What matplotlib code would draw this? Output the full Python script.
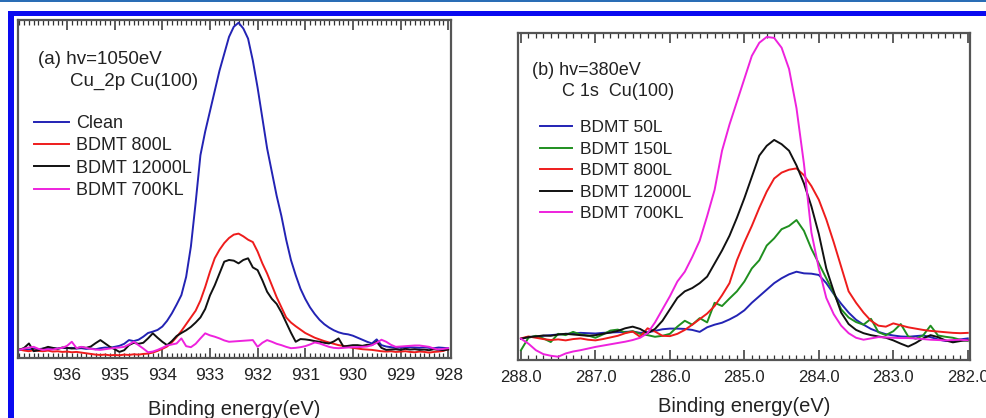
import numpy as np
import matplotlib
matplotlib.use('Agg')
import matplotlib.pyplot as plt
from matplotlib.ticker import MultipleLocator, FormatStrFormatter
from matplotlib.patches import Rectangle

plt.rcParams['font.family'] = ['Liberation Sans', 'DejaVu Sans']

# (a) Cu 2p, hv=1050eV : binding energy 937.0 -> 928.0 eV, 0.1 eV step
cu_energy = np.round(np.linspace(937.0, 928.0, 91), 1)
cu_ticks = [936, 935, 934, 933, 932, 931, 930, 929, 928]
cu_clean = [2.5, 2.6, 2.5, 2.7, 2.6, 2.8, 2.7, 2.9, 2.8, 3.0,
            2.9, 3.0, 2.8, 2.9, 2.7, 2.8, 2.6, 2.9, 3.1, 3.0,
            3.3, 3.6, 4.2, 5.3, 5.0, 5.4, 6.3, 7.4, 7.8, 8.3,
            9.3, 11.0, 13.2, 15.8, 18.6, 24, 33, 46, 60, 67,
            73, 79, 85, 90, 95, 98, 99.2, 97.5, 94.5, 88,
            80, 71, 62, 55, 48, 42, 35, 29, 24.5, 20.5,
            17.5, 15, 13, 11.3, 10, 9, 8.2, 7.6, 7.2, 7.0,
            6.6, 6.0, 5.4, 4.8, 4.3, 5.5, 3.8, 3.4, 3.2, 3.0,
            3.1, 3.0, 3.2, 3.1, 3.0, 3.2, 3.0, 2.9, 3.1, 3.0,
            2.9]
cu_800L = [2.5, 2.2, 2.0, 2.3, 2.1, 2.0, 2.2, 1.9, 2.0, 1.8,
           1.9, 1.7, 1.8, 1.6, 1.4, 1.2, 1.0, 0.9, 1.0, 0.8,
           0.9, 0.8, 1.0, 0.9, 1.1, 1.0, 1.2, 1.3, 1.6, 2.1,
           2.7, 3.4, 4.6, 6.2, 8.0, 10, 12, 14, 17, 21,
           25.5, 29.5, 32, 34, 35.5, 36.5, 36.8, 36, 35, 34.3,
           31.5, 28, 25, 21.5, 18, 15, 12, 10.5, 9.4, 8.4,
           7.4, 6.7, 6.0, 5.5, 5.0, 4.6, 4.2, 3.8, 3.6, 3.3,
           3.0, 2.8, 2.6, 2.5, 2.4, 2.2, 2.0, 1.9, 2.0, 1.8,
           1.9, 2.0, 1.8, 1.7, 1.9, 1.8, 1.6, 1.8, 1.9, 2.1,
           2.6]
cu_12000L = [2.4, 3.0, 4.3, 2.0, 2.3, 2.8, 3.3, 3.0, 2.7, 3.1,
             3.0, 2.8, 2.9, 3.2, 3.0, 3.4, 4.4, 5.3, 4.3, 3.3,
             2.6, 1.8, 2.3, 3.8, 4.5, 4.2, 4.5, 5.8, 7.3, 6.0,
             4.8, 3.8, 5.0, 6.5, 7.4, 8.2, 9.2, 10.5, 12.0, 14.5,
             18.5, 21.5, 25, 28.5, 29, 28.8, 28.0, 29, 29.5, 26.8,
             26, 23, 19.6, 17.5, 16, 13.5, 10.5, 7.5, 4.8, 5.6,
             5.5, 5.3, 5.0, 4.8, 4.5, 4.3, 4.9, 5.8, 3.4, 3.6,
             3.8, 3.8, 3.6, 3.9, 3.8, 4.8, 3.0, 2.4, 2.5, 2.6,
             2.4, 2.7, 2.5, 2.6, 2.4, 2.5, 2.3, 2.6, 2.4, 2.3,
             2.5]
cu_700KL = [2.4, 2.8, 3.1, 3.3, 2.7, 2.4, 2.6, 2.5, 2.8, 3.0,
            3.6, 4.8, 2.9, 3.3, 3.0, 2.7, 2.5, 2.4, 2.6, 2.8,
            3.0, 3.1, 3.3, 4.0, 4.8, 3.8, 2.8, 1.7, 1.9, 2.4,
            3.0, 3.7, 4.0, 4.3, 5.8, 3.5, 3.2, 4.2, 5.8, 7.3,
            6.7, 6.3, 5.8, 5.2, 4.8, 4.9, 5.0, 5.1, 5.2, 5.3,
            3.3, 4.5, 5.3, 4.8, 4.2, 3.8, 3.3, 2.9, 3.0, 3.2,
            3.5, 4.0, 4.6, 4.3, 3.8, 3.3, 3.0, 2.9, 3.0, 3.1,
            3.2, 3.2, 3.3, 3.4, 3.8, 4.5, 5.4, 4.8, 3.9, 3.3,
            3.4, 3.5, 3.6, 3.7, 3.7, 3.5, 3.3, 2.8, 2.5, 2.7,
            2.9]

# (b) C 1s, hv=380eV : binding energy 288.0 -> 282.0 eV, 0.1 eV step
c_energy = np.round(np.linspace(288.0, 282.0, 61), 1)
c_50L = [6.5, 7.0, 7.2, 7.4, 7.6, 7.8, 8.0, 8.1, 8.3, 8.2,
         8.1, 8.3, 8.4, 8.5, 8.6, 8.7, 8.3, 8.5, 8.9, 9.4,
         9.6, 9.6, 9.5, 9.2, 8.6, 10.0, 10.8, 11.4, 12.4, 13.6,
         15.2, 17.5, 19.5, 21.5, 23.5, 25.0, 26.2, 27.0, 26.5, 26.4,
         26.0, 23.5, 20.2, 17.2, 14.5, 12.3, 10.8, 9.5, 8.6, 7.9,
         7.5, 7.2, 7.1, 7.3, 7.5, 7.0, 6.3, 5.8, 5.8, 6.3,
         6.6]
c_150L = [3.0, 6.8, 7.4, 6.6, 5.5, 8.0, 7.6, 8.6, 7.8, 7.5,
          6.8, 7.8, 9.0, 9.3, 8.4, 8.8, 8.0, 7.6, 7.1, 7.4,
          8.0, 10.2, 12.0, 10.8, 12.8, 11.5, 17.5, 16.5, 18.8, 21.0,
          24.0, 28.0, 30.5, 35.0, 37.2, 40.0, 41.0, 42.8, 39.5, 34.0,
          29.5, 25.0, 20.5, 15.5, 13.0, 11.6, 10.8, 12.6, 8.5, 7.6,
          8.8, 11.0, 7.2, 6.5, 7.5, 10.5, 7.5, 7.1, 6.8, 6.2,
          5.8]
c_800L = [6.6, 7.2, 6.8, 6.4, 6.1, 6.3, 6.0, 6.4, 6.6, 6.2,
          6.0, 6.4, 6.9, 7.4, 8.2, 8.7, 7.1, 9.7, 8.7, 7.4,
          7.3, 8.0, 9.2, 10.8, 12.5, 14.2, 16.5, 19.8, 23.5, 30.5,
          36, 41, 46.5, 51.5, 55.5, 57.3, 58.2, 58.6, 56.5, 53.2,
          49, 43, 36, 28.5, 21, 17.5, 14.5, 12.0, 10.5, 10.2,
          11.2, 10.6, 10.0, 9.6, 9.2, 8.9, 8.7, 8.5, 8.3, 8.2,
          8.3]
c_12000L = [6.5, 7.0, 7.2, 7.5, 7.4, 7.8, 8.0, 7.8, 7.6, 7.4,
            7.6, 8.0, 8.4, 8.9, 9.7, 10.2, 9.5, 8.2, 9.5, 12.0,
            15.5, 19.0, 21.0, 22.0, 23.5, 25.5, 29.5, 33.5, 38.0, 43.5,
            49.5, 56, 62.5, 65.5, 67.3, 66.0, 64.0, 59.5, 54, 47,
            38.5, 28, 21, 14.5, 11.0, 9.2, 8.2, 7.6, 7.2, 6.8,
            6.0, 5.0, 4.1, 5.2, 6.6, 7.6, 7.0, 6.0, 5.4, 5.8,
            6.1]
c_700KL = [6.5, 5.0, 3.0, 1.8, 1.3, 1.0, 2.0, 2.6, 3.0, 3.5,
           4.0, 4.4, 4.8, 5.2, 5.6, 6.1, 6.8, 8.2, 11.5, 15.5,
           19.5, 24, 27, 31.5, 36.5, 44, 52, 64, 72, 79,
           86, 93, 97, 98.8, 98.5, 95.5, 89, 77, 60, 39,
           28, 19, 14, 10.5, 8.2, 6.8, 6.2, 6.6, 7.0, 6.9,
           6.8, 6.7, 6.7, 6.6, 6.4, 6.2, 6.1, 6.0, 6.1, 6.2,
           6.0]

BLUE = '#2323b4'
RED = '#ee1c1c'
BLACK = '#111111'
MAGENTA = '#ee22dd'
GREEN = '#1f8f1f'

fig = plt.figure(figsize=(9.87, 4.18), dpi=100)

# journal frame decoration
fig.add_artist(Rectangle((0, 416 / 418), 1, 2 / 418, transform=fig.transFigure,
                         color='#2a6db5', lw=0))
fig.add_artist(Rectangle((8 / 987, 402 / 418), 1, 5 / 418, transform=fig.transFigure,
                         color='#0a0af0', lw=0))
fig.add_artist(Rectangle((8 / 987, 0), 6 / 987, 407 / 418, transform=fig.transFigure,
                         color='#0a0af0', lw=0))

ax1 = fig.add_axes([17.5 / 987, 1 - 358 / 418, 433.5 / 987, 338 / 418])
ax2 = fig.add_axes([518 / 987, 1 - 360 / 418, 452 / 987, 327 / 418])

lw = 1.4
ax1.plot(cu_energy, cu_clean, color=BLUE, lw=lw, label='Clean')
ax1.plot(cu_energy, cu_800L, color=RED, lw=lw, label='BDMT 800L')
ax1.plot(cu_energy, cu_12000L, color=BLACK, lw=lw, label='BDMT 12000L')
ax1.plot(cu_energy, cu_700KL, color=MAGENTA, lw=lw, label='BDMT 700KL')
ax1.set_xlim(937.04, 927.94)
ax1.set_ylim(0, 100)

ax2.plot(c_energy, c_50L, color=BLUE, lw=lw, label='BDMT 50L')
ax2.plot(c_energy, c_150L, color=GREEN, lw=lw, label='BDMT 150L')
ax2.plot(c_energy, c_800L, color=RED, lw=lw, label='BDMT 800L')
ax2.plot(c_energy, c_12000L, color=BLACK, lw=lw, label='BDMT 12000L')
ax2.plot(c_energy, c_700KL, color=MAGENTA, lw=lw, label='BDMT 700KL')
ax2.set_xlim(288.04, 281.97)
ax2.set_ylim(0, 100)

for ax in (ax1, ax2):
    for s in ax.spines.values():
        s.set_color('#555555')
        s.set_linewidth(1.6)
    ax.xaxis.set_major_locator(MultipleLocator(1))
    ax.xaxis.set_minor_locator(MultipleLocator(0.1))
    ax.tick_params(axis='x', which='both', direction='in', top=True, bottom=True,
                   color='#333333', labelcolor='#222222', pad=7)
    ax.tick_params(axis='x', which='major', length=7, width=1.1)
    ax.tick_params(axis='x', which='minor', length=3.5, width=0.9)
    ax.tick_params(axis='y', which='both', left=False, labelleft=False)

ax1.set_xticks(cu_ticks)
ax1.xaxis.set_major_formatter(FormatStrFormatter('%d'))
ax1.tick_params(axis='x', labelsize=12.5)
ax2.xaxis.set_major_formatter(FormatStrFormatter('%.1f'))
ax2.tick_params(axis='x', labelsize=12)

ax1.set_xlabel('Binding energy(eV)', fontsize=14.5, color='#222222', labelpad=12.5)
ax2.set_xlabel('Binding energy(eV)', fontsize=14.5, color='#222222', labelpad=9)

ax1.text(0.047, 0.882, '(a) hv=1050eV', transform=ax1.transAxes, fontsize=13.5,
         color='#222222', va='center', ha='left')
ax1.text(0.121, 0.817, 'Cu_2p Cu(100)', transform=ax1.transAxes, fontsize=13.5,
         color='#222222', va='center', ha='left')
ax2.text(0.031, 0.884, '(b) hv=380eV', transform=ax2.transAxes, fontsize=13,
         color='#222222', va='center', ha='left')
ax2.text(0.097, 0.82, 'C 1s  Cu(100)', transform=ax2.transAxes, fontsize=13,
         color='#222222', va='center', ha='left')

leg1 = ax1.legend(loc='upper left', bbox_to_anchor=(0.038, 0.719), frameon=False,
                  fontsize=13, handlelength=1.94, handletextpad=0.39,
                  labelspacing=0.3, borderpad=0, borderaxespad=0)
leg2 = ax2.legend(loc='upper left', bbox_to_anchor=(0.049, 0.733), frameon=False,
                  fontsize=12.5, handlelength=1.84, handletextpad=0.46,
                  labelspacing=0.36, borderpad=0, borderaxespad=0)
for leg in (leg1, leg2):
    for t in leg.get_texts():
        t.set_color('#222222')

plt.savefig('out.png', dpi=100)
